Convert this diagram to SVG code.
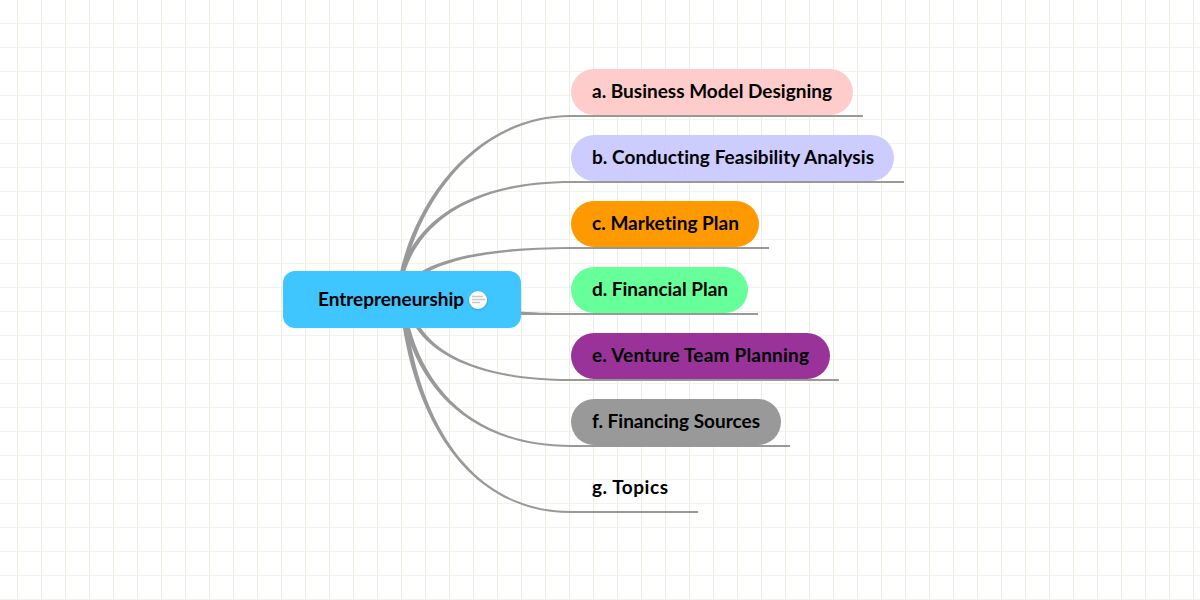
<svg xmlns="http://www.w3.org/2000/svg" width="1200" height="600" viewBox="0 0 1200 600">
<defs>
<pattern id="grid" x="-6" y="-1" width="24" height="24" patternUnits="userSpaceOnUse">
<rect x="0" y="0" width="24" height="1" fill="#f1f4e9"/>
<rect x="23" y="0" width="1" height="24" fill="#ebeee3"/>
</pattern>
<filter id="sh" x="-30%" y="-30%" width="160%" height="160%"><feDropShadow dx="0" dy="0.5" stdDeviation="0.8" flood-color="#000" flood-opacity="0.3"/></filter>
</defs>
<style>
.c{fill:#999}
.u{fill:none;stroke:#999;stroke-width:2}
text{font-family:"Lato","Liberation Sans",sans-serif;font-weight:700;font-size:19px;fill:#000;font-variant-ligatures:none}
</style>
<rect width="1200" height="600" fill="#fff"/>
<rect width="1200" height="600" fill="url(#grid)"/>
<g id="connectors">
<path class="c" d="M400 272C418 194 479 115 571 115V117C481 117 422 196 404.500 272Z"/>
<path class="c" d="M400.500 272C416 221 469 181 571 181V183C471 183 420 224 405 272Z"/>
<path class="c" d="M422 271C450 255 500 247 571 247V249C501 249 452 258 426 273Z"/>
<path class="c" d="M519 311.500C540 313 555 313 571 313V315C555 315 540 315 519 315Z"/>
<path class="c" d="M421 328C441 358 490 379 571 379V381C489 381 438 360 416 328Z"/>
<path class="c" d="M410 328C427 390 475 445 571 445V447C474 447 423 392 405 328Z"/>
<path class="c" d="M408 328C422 420 470 511 571 511V513C469 513 418 421 403 328Z"/>
<path class="u" d="M571 116H863M571 182H904M571 248H769M571 314H758M571 380H839M571 446H790M571 512H698"/>
</g>
<g id="root"><rect x="283" y="271" width="238" height="57" rx="12" fill="#3fc5ff"/><text x="318" y="305.500" textLength="146">Entrepreneurship</text>
<circle cx="478" cy="300" r="9" fill="#fff" filter="url(#sh)"/><path d="M472 296.500H483M472 299.500H485M472 302.500H480" stroke="#c8c8c8" stroke-width="1.300" fill="none"/></g>
<g id="node-a"><rect x="571" y="69" width="282" height="46" rx="23" fill="#ffcccc"/><text x="592" y="97.500" textLength="240">a. Business Model Designing</text></g>
<g id="node-b"><rect x="571" y="135" width="323" height="46" rx="23" fill="#ccccff"/><text x="592" y="163.500" textLength="282">b. Conducting Feasibility Analysis</text></g>
<g id="node-c"><rect x="571" y="201" width="188" height="46" rx="23" fill="#ff9900"/><text x="592" y="229.500" textLength="147">c. Marketing Plan</text></g>
<g id="node-d"><rect x="571" y="267" width="177" height="46" rx="23" fill="#66ff99"/><text x="592" y="295.500" textLength="136">d. Financial Plan</text></g>
<g id="node-e"><rect x="571" y="333" width="259" height="46" rx="23" fill="#993399"/><text x="592" y="361.500" textLength="217">e. Venture Team Planning</text></g>
<g id="node-f"><rect x="571" y="399" width="210" height="46" rx="23" fill="#999999"/><text x="592" y="427.500" textLength="168">f. Financing Sources</text></g>
<g id="node-g"><text x="592" y="493.500" textLength="76">g. Topics</text></g>
</svg>
